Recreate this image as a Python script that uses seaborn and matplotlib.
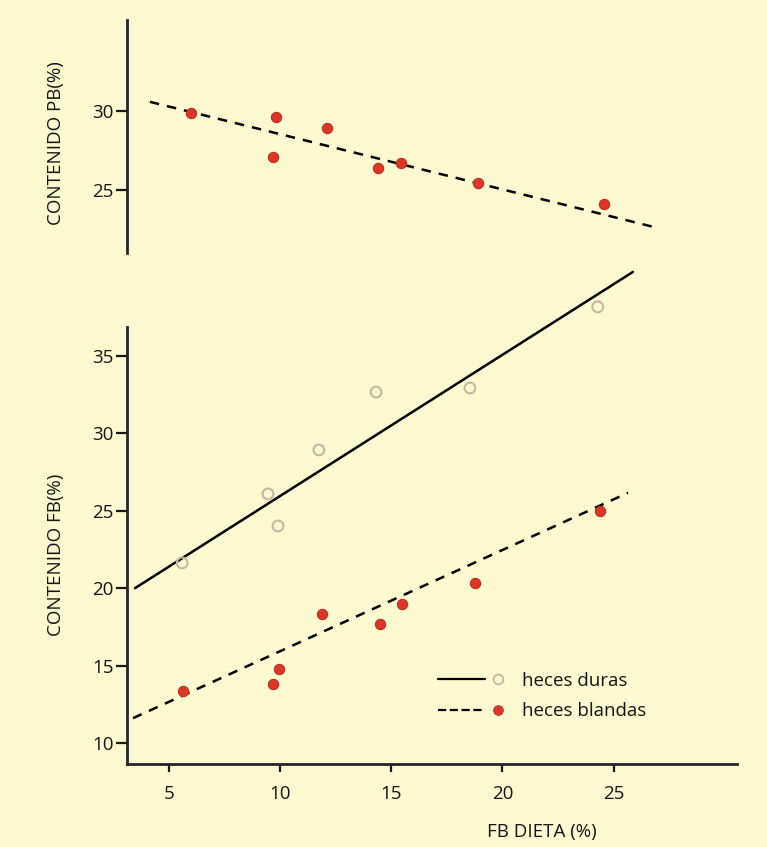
import numpy as np
import pandas as pd
import matplotlib
matplotlib.use("Agg")
import matplotlib.pyplot as plt
import seaborn as sns
from matplotlib.lines import Line2D
from matplotlib.legend_handler import HandlerBase

# ---------------- data ----------------
# top panel: PB content vs dietary FB (soft faeces)
pb_x = [6.0, 9.68, 9.81, 12.11, 14.41, 15.44, 18.9, 24.56]
pb_y = [29.87, 27.09, 29.6, 28.9, 26.39, 26.7, 25.44, 24.1]
pb_line_x = [4.15, 26.94]
pb_line_y = [30.57, 22.6]

# bottom panel: FB content vs dietary FB
duras_x = [5.6, 9.46, 9.91, 11.75, 14.32, 18.54, 24.29]
duras_y = [21.63, 26.09, 24.02, 28.93, 32.67, 32.93, 38.17]
duras_line_x = [3.48, 25.87]
duras_line_y = [20.0, 40.43]

blandas_x = [5.64, 9.68, 9.96, 11.89, 14.5, 15.48, 18.76, 24.38]
blandas_y = [13.36, 13.81, 14.78, 18.33, 17.69, 19.0, 20.35, 25.0]
blandas_line_x = [3.39, 25.65]
blandas_line_y = [11.6, 26.16]

x_ticks = [5, 10, 15, 20, 25]
pb_ticks = [25, 30]
fb_ticks = [10, 15, 20, 25, 30, 35]

labels = ["heces duras", "heces blandas"]
x_label = "FB DIETA (%)"
pb_label = "CONTENIDO PB(%)"
fb_label = "CONTENIDO FB(%)"

# ---------------- style ----------------
BG = "#fcf8cf"
RED = "#dd3629"
RED_EDGE = "#b8321f"
OPEN = "#c4b8a2"
INK = "#151515"
FS = 13.5

sns.set_theme(style="ticks")
plt.rcParams["font.family"] = ["Open Sans", "DejaVu Sans"]
plt.rcParams["axes.linewidth"] = 2.0
plt.rcParams["text.color"] = INK
plt.rcParams["axes.labelcolor"] = INK
plt.rcParams["xtick.color"] = INK
plt.rcParams["ytick.color"] = INK

fig = plt.figure(figsize=(7.67, 8.47), dpi=100, facecolor=BG)

ax_top = fig.add_axes([0.1656, 0.7013, 0.7953, 0.2751])
ax_bot = fig.add_axes([0.1656, 0.0980, 0.7953, 0.5159])
for ax in (ax_top, ax_bot):
    ax.set_facecolor(BG)
    ax.set_xlim(3.12, 30.55)

dash = (0, (3.8, 3.2))

# ---- top panel ----
df_pb = pd.DataFrame({"x": pb_x, "y": pb_y})
df_pb_line = pd.DataFrame({"x": pb_line_x, "y": pb_line_y})
sns.lineplot(data=df_pb_line, x="x", y="y", ax=ax_top, color="black",
             lw=1.8, linestyle=dash, estimator=None, sort=False)
sns.scatterplot(data=df_pb, x="x", y="y", ax=ax_top, color=RED,
                edgecolor=RED_EDGE, linewidth=0.8, s=55, zorder=3)
ax_top.set_ylim(21.0, 35.75)
ax_top.set_yticks(pb_ticks)
ax_top.set_xticks([])
for s in ("top", "right", "bottom"):
    ax_top.spines[s].set_visible(False)
ax_top.set_xlabel("")
ax_top.set_ylabel(pb_label, fontsize=FS)
ax_top.yaxis.set_label_coords(-0.102, 0.47)

# ---- bottom panel ----
df_du = pd.DataFrame({"x": duras_x, "y": duras_y})
df_bl = pd.DataFrame({"x": blandas_x, "y": blandas_y})
df_du_line = pd.DataFrame({"x": duras_line_x, "y": duras_line_y})
df_bl_line = pd.DataFrame({"x": blandas_line_x, "y": blandas_line_y})

sns.lineplot(data=df_du_line, x="x", y="y", ax=ax_bot, color="black",
             lw=1.8, linestyle="-", estimator=None, sort=False, clip_on=False)
sns.lineplot(data=df_bl_line, x="x", y="y", ax=ax_bot, color="black",
             lw=1.8, linestyle=dash, estimator=None, sort=False)
sns.scatterplot(data=df_du, x="x", y="y", ax=ax_bot, facecolor="none",
                edgecolor=OPEN, linewidth=1.5, s=60, zorder=3, clip_on=False)
sns.scatterplot(data=df_bl, x="x", y="y", ax=ax_bot, color=RED,
                edgecolor=RED_EDGE, linewidth=0.8, s=55, zorder=3)
ax_bot.set_ylim(8.64, 36.87)
ax_bot.set_yticks(fb_ticks)
ax_bot.set_xticks(x_ticks)
for s in ("top", "right"):
    ax_bot.spines[s].set_visible(False)
ax_bot.set_ylabel(fb_label, fontsize=FS)
ax_bot.yaxis.set_label_coords(-0.102, 0.478)
ax_bot.set_xlabel(x_label, fontsize=FS)
ax_bot.xaxis.set_label_coords(0.68, -0.135)

for ax in (ax_top, ax_bot):
    ax.tick_params(axis="y", length=8, width=1.6, pad=1.5, labelsize=FS)
ax_bot.tick_params(axis="x", length=6, width=1.6, pad=9, labelsize=FS)

# ---- legend ----
class LineMarkerHandler(HandlerBase):
    def create_artists(self, legend, orig, xdescent, ydescent, width, height,
                       fontsize, trans):
        y = height / 2 - ydescent
        x0 = -xdescent
        ln = Line2D([x0, x0 + width * 0.70], [y, y], color="black", lw=1.6,
                    linestyle=orig.get_linestyle(), transform=trans)
        mk = Line2D([x0 + width * 0.88], [y], marker="o", linestyle="none",
                    markerfacecolor=orig.get_markerfacecolor(),
                    markeredgecolor=orig.get_markeredgecolor(),
                    markeredgewidth=orig.get_markeredgewidth(),
                    markersize=orig.get_markersize(), transform=trans)
        return [ln, mk]

h_du = Line2D([], [], linestyle="-", marker="o", markerfacecolor="none",
              markeredgecolor=OPEN, markeredgewidth=1.3, markersize=7)
h_bl = Line2D([], [], linestyle=(0, (3.8, 3.2)), marker="o", markerfacecolor=RED,
              markeredgecolor=RED_EDGE, markeredgewidth=0.6, markersize=7)
handler = LineMarkerHandler()
ax_bot.legend([h_du, h_bl], labels, handler_map={h_du: handler, h_bl: handler},
              loc="upper left", bbox_to_anchor=(0.51, 0.2105), frameon=False,
              fontsize=FS, handlelength=3.6, handletextpad=0.85,
              labelspacing=0.65, borderaxespad=0, borderpad=0)

fig.savefig("out.png", dpi=100, facecolor=BG)
